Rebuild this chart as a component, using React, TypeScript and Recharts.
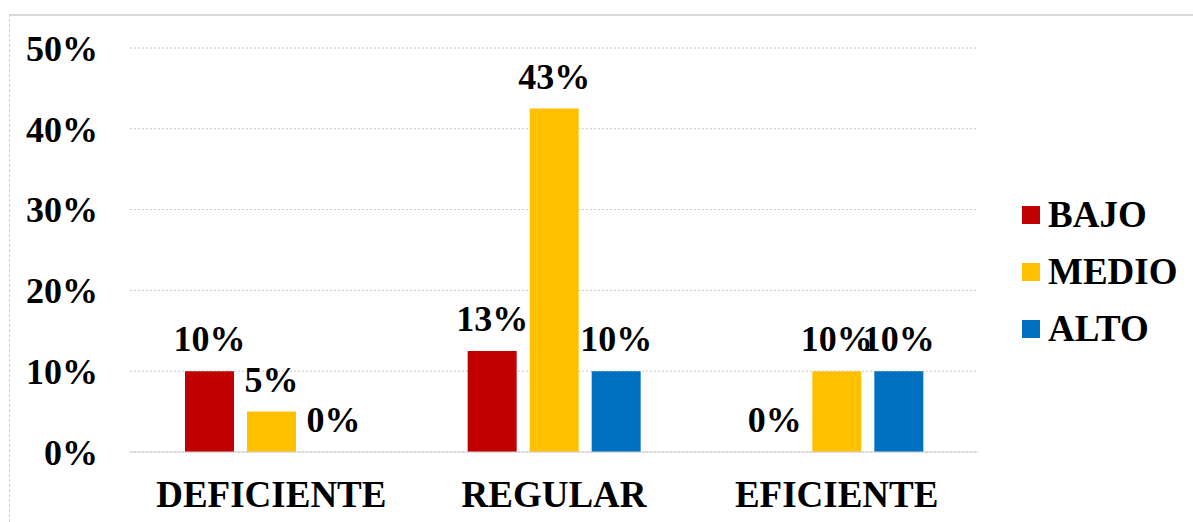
import React from 'react';
import { BarChart, Bar, XAxis, YAxis, CartesianGrid, Legend, LabelList } from 'recharts';

const categories = ['DEFICIENTE', 'REGULAR', 'EFICIENTE'];
const bajo = [10, 12.5, 0];
const medio = [5, 42.5, 10];
const alto = [0, 10, 10];
const yTicks = [0, 10, 20, 30, 40, 50];

const seriesNames = ['BAJO', 'MEDIO', 'ALTO'];
const seriesColors = ['#C00000', '#FFC000', '#0070C0'];

const data = categories.map((c, i) => ({ name: c, BAJO: bajo[i], MEDIO: medio[i], ALTO: alto[i] }));

const FONT = 'Liberation Serif, Tinos, Times New Roman, DejaVu Serif, serif';
const textStyle = { fontFamily: FONT, fontWeight: 'bold', fontSize: 36, fill: '#000' };
const catStyle = { fontFamily: FONT, fontWeight: 'bold', fontSize: 37, fill: '#000' };

const renderLegend = (props: any) => {
  const payload = [...(props.payload || [])].sort(
    (a: any, b: any) => seriesNames.indexOf(a.value) - seriesNames.indexOf(b.value)
  );
  return (
    <div style={{ fontFamily: FONT, fontWeight: 'bold', fontSize: 37, color: '#000' }}>
      {payload.map((p: any) => (
        <div key={p.value} style={{ display: 'flex', alignItems: 'center', height: 57 }}>
          <span style={{ display: 'inline-block', width: 18, height: 18, background: p.color, marginRight: 8 }} />
          <span style={{ lineHeight: '57px' }}>{p.value}</span>
        </div>
      ))}
    </div>
  );
};

export default function App() {
  return (
    <div style={{ position: 'absolute', left: 0, top: 0, width: 1193, height: 522, background: '#fff', overflow: 'hidden' }}>
      <div
        style={{
          position: 'absolute',
          left: 9,
          top: 14,
          width: 1184,
          height: 508,
          borderTop: '2px solid #d9d9d9',
          borderLeft: '1px dashed #cfcfcf',
          boxSizing: 'border-box',
        }}
      />
      <div style={{ position: 'absolute', left: 0, top: 0 }}>
        <BarChart
          width={1193}
          height={522}
          data={data}
          margin={{ top: 48, right: 215, bottom: 40, left: 0 }}
          barGap={13}
          barSize={49}
        >
          <CartesianGrid vertical={false} stroke="#c8c8c8" strokeDasharray="2 2" />
          <XAxis
            dataKey="name"
            height={30}
            axisLine={{ stroke: '#d0d0d0' }}
            tickLine={false}
            tickSize={0}
            tickMargin={29}
            tick={catStyle}
            interval={0}
          />
          <YAxis
            width={130}
            domain={[0, 50]}
            ticks={yTicks}
            axisLine={false}
            tickLine={false}
            tickSize={0}
            tickMargin={32}
            tick={textStyle}
            tickFormatter={(v: number) => `${v}%`}
          />
          <Legend
            layout="vertical"
            align="center"
            verticalAlign="middle"
            content={renderLegend}
            wrapperStyle={{ position: 'absolute', left: 1022, top: 186, width: 170 }}
          />
          {seriesNames.map((s, i) => (
            <Bar key={s} dataKey={s} name={s} fill={seriesColors[i]} minPointSize={0.01} isAnimationActive={false}>
              <LabelList
                dataKey={s}
                position="top"
                offset={20}
                formatter={(v: any) => `${Math.round(Number(v))}%`}
                style={textStyle}
              />
            </Bar>
          ))}
        </BarChart>
      </div>
    </div>
  );
}
